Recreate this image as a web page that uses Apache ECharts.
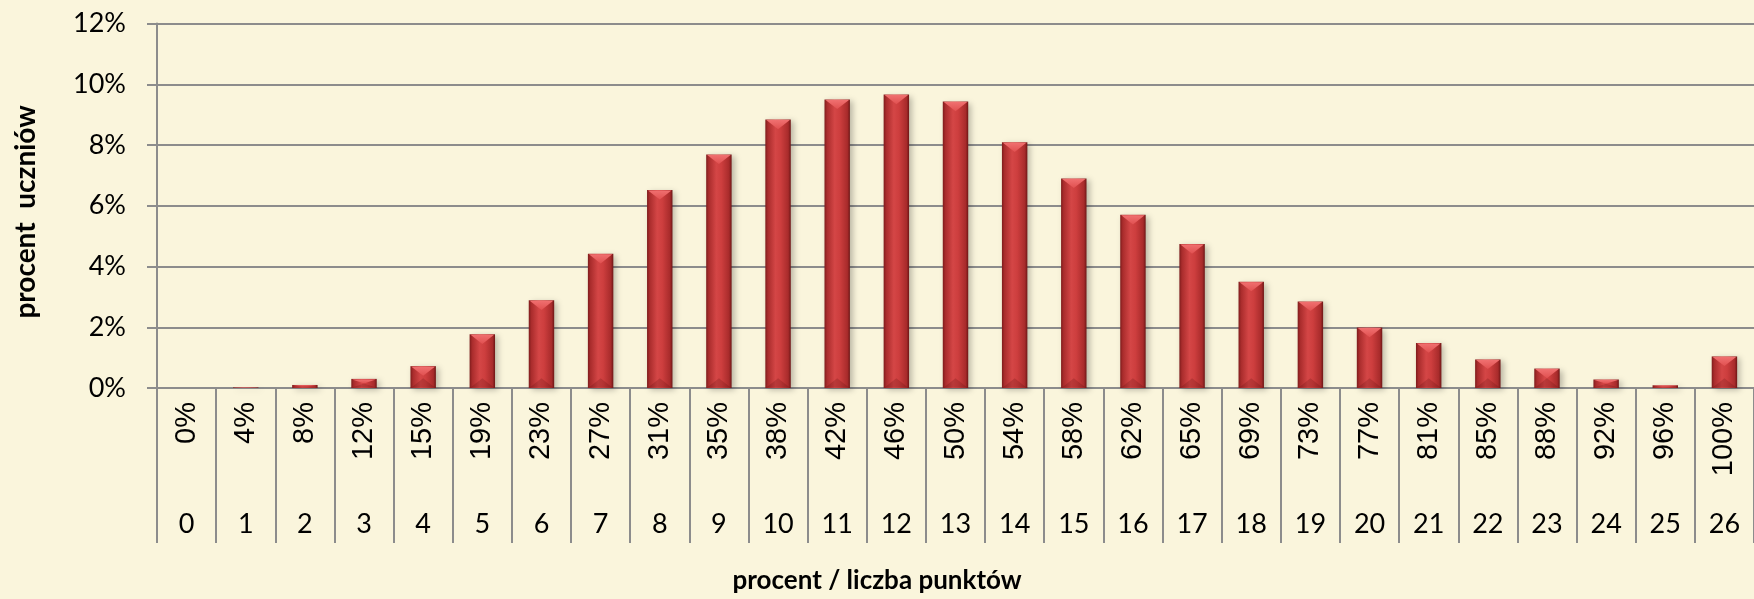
<!DOCTYPE html>
<html>
<head>
<meta charset="utf-8">
<script src="https://cdn.jsdelivr.net/npm/echarts@6/dist/echarts.min.js"></script>
<style>
  html, body { margin: 0; padding: 0; background: #FAF5DC; }
  #chart { width: 1754px; height: 599px; }
</style>
</head>
<body>
<div id="chart"></div>
<script>
// categories: percent of maximum score and number of points
const percentLabels = ['0%','4%','8%','12%','15%','19%','23%','27%','31%','35%','38%','42%','46%','50%','54%','58%','62%','65%','69%','73%','77%','81%','85%','88%','92%','96%','100%'];
const pointLabels = ['0','1','2','3','4','5','6','7','8','9','10','11','12','13','14','15','16','17','18','19','20','21','22','23','24','25','26'];
// share of students (%) per score
const studentShares = [0, 0.02, 0.1, 0.3, 0.72, 1.77, 2.89, 4.42, 6.52, 7.69, 8.84, 9.50, 9.66, 9.43, 8.09, 6.90, 5.70, 4.74, 3.50, 2.85, 1.99, 1.48, 0.94, 0.64, 0.28, 0.09, 1.04];
const yTicks = { min: 0, max: 12, interval: 2 };

const gridColor = '#8c8c8c';
const textColor = '#000000';
const barRel = 0.43;

const chart = echarts.init(document.getElementById('chart'), null, { renderer: 'canvas' });

const bevelData = studentShares.map((v, i) => [i, v]);

const option = {
  backgroundColor: '#FAF5DC',
  animation: false,
  grid: { left: 157, top: 23.5, right: -7.4, bottom: 211 },
  xAxis: [
    {
      type: 'category',
      data: percentLabels,
      position: 'bottom',
      axisLine: { show: true, lineStyle: { color: gridColor, width: 2 } },
      axisTick: { show: true, interval: 0, length: 155, lineStyle: { color: gridColor, width: 2 } },
      axisLabel: { interval: 0, rotate: 90, margin: 14, fontFamily: 'Liberation Sans', fontSize: 29, color: textColor }
    },
    {
      type: 'category',
      data: pointLabels,
      position: 'bottom',
      axisLine: { show: false },
      axisTick: { show: false },
      splitLine: { show: false },
      axisLabel: { interval: 0, margin: 123, fontFamily: 'Lato', fontSize: 27, color: textColor }
    }
  ],
  yAxis: {
    type: 'value',
    min: yTicks.min,
    max: yTicks.max,
    interval: yTicks.interval,
    axisLine: { show: true, lineStyle: { color: gridColor, width: 2 } },
    axisTick: { show: true, length: 10, lineStyle: { color: gridColor, width: 2 } },
    splitLine: { show: true, lineStyle: { color: gridColor, width: 2 } },
    axisLabel: { formatter: '{value}%', margin: 31, fontFamily: 'Lato', fontSize: 27, color: textColor }
  },
  series: [
    {
      type: 'bar',
      xAxisIndex: 0,
      yAxisIndex: 0,
      data: studentShares,
      barWidth: (barRel * 100) + '%',
      itemStyle: {
        color: new echarts.graphic.LinearGradient(0, 0, 1, 0, [
          { offset: 0, color: '#7e1c1c' },
          { offset: 0.1, color: '#a92c2c' },
          { offset: 0.4, color: '#d44646' },
          { offset: 0.6, color: '#cd3e3e' },
          { offset: 0.9, color: '#a82b2b' },
          { offset: 1, color: '#6e1616' }
        ]),
        borderWidth: 0,
        shadowBlur: 6,
        shadowColor: 'rgba(0,0,0,0.25)',
        shadowOffsetX: 3,
        shadowOffsetY: 2
      },
      z: 2
    },
    {
      type: 'custom',
      xAxisIndex: 0,
      yAxisIndex: 0,
      data: bevelData,
      encode: { x: 0, y: 1 },
      silent: true,
      z: 3,
      renderItem: function (params, api) {
        const i = api.value(0), v = api.value(1);
        if (!v) return null;
        const top = api.coord([i, v]);
        const bot = api.coord([i, 0]);
        const w = api.size([1, 0])[0] * barRel;
        const x0 = top[0] - w / 2 + 1, x1 = top[0] + w / 2 - 1;
        const h = bot[1] - top[1];
        const d = Math.min(w * 0.38, h / 2);
        return {
          type: 'group',
          children: [
            {
              type: 'polygon',
              shape: { points: [[x0, top[1] + 0.5], [x1, top[1] + 0.5], [top[0], top[1] + d]] },
              style: {
                fill: new echarts.graphic.LinearGradient(0, 0, 0, 1, [
                  { offset: 0, color: '#f07070' },
                  { offset: 1, color: '#e05050' }
                ])
              }
            },
            {
              type: 'polygon',
              shape: { points: [[x0, bot[1] - 0.5], [x1, bot[1] - 0.5], [top[0], bot[1] - d]] },
              style: { fill: 'rgba(80,10,10,0.2)' }
            }
          ]
        };
      }
    }
  ],
  graphic: [
    {
      type: 'text',
      left: 'center',
      top: 568,
      style: { text: 'procent / liczba punktów', font: 'bold 26px Lato', fill: textColor }
    },
    {
      type: 'text',
      x: 26,
      y: 212,
      rotation: Math.PI / 2,
      style: { text: 'procent  uczniów', font: 'bold 28px Lato', fill: textColor, align: 'center', verticalAlign: 'middle' }
    }
  ]
};

chart.setOption(option);
</script>
</body>
</html>
